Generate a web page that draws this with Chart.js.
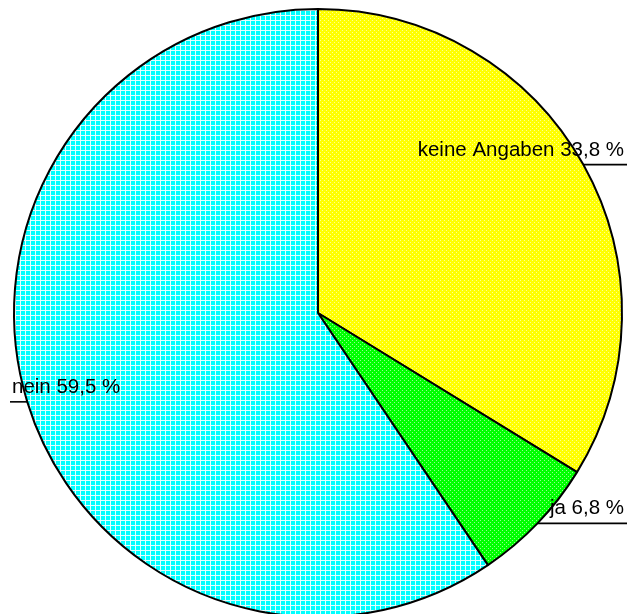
<!DOCTYPE html>
<html>
<head>
<meta charset="utf-8">
<script src="https://cdn.jsdelivr.net/npm/chart.js@4/dist/chart.umd.min.js"></script>
<style>
  html, body { margin: 0; padding: 0; background: #ffffff; overflow: hidden; }
  canvas { display: block; }
</style>
</head>
<body>
<canvas id="pie" width="627" height="630"></canvas>
<script>
// Survey answers, percent of respondents
const categories = ['keine Angaben', 'ja', 'nein'];
const values = [33.8, 6.8, 59.5];
const baseColors = ['#ffff00', '#00ff00', '#00ffff'];
const lightColors = ['#ffff90', '#90ff90', '#e0ffff'];

// Small raster fills: sparse dots for the first two slices, a fine grid for the last
function makePattern(base, light, grid) {
  const n = grid ? 5 : 4;
  const c = document.createElement('canvas');
  c.width = n; c.height = n;
  const g = c.getContext('2d');
  g.fillStyle = base;
  g.fillRect(0, 0, n, n);
  g.fillStyle = light;
  if (grid) {
    g.fillRect(0, 0, n, 1);
    g.fillRect(0, 1, 1, n - 1);
  } else {
    g.fillRect(0, 0, 1, 1);
    g.fillRect(2, 2, 1, 1);
  }
  return g.createPattern(c, 'repeat');
}

const ctx0 = document.getElementById('pie').getContext('2d');
const fills = baseColors.map((b, i) => makePattern(b, lightColors[i], i === 2));

function fmt(v) {
  return v.toFixed(1).replace('.', ',') + ' %';
}

// Labels with a horizontal leader line starting at each slice's mid-angle on the rim
const leaderLabels = {
  id: 'leaderLabels',
  afterDatasetsDraw(chart) {
    const ctx = chart.ctx;
    const meta = chart.getDatasetMeta(0);
    const W = chart.width;
    ctx.save();
    ctx.font = '20.5px "Liberation Sans", Arial, sans-serif';
    ctx.fillStyle = '#000000';
    ctx.strokeStyle = '#000000';
    ctx.lineWidth = 1.6;
    ctx.textBaseline = 'alphabetic';
    meta.data.forEach((arc, i) => {
      const p = arc.getProps(['x', 'y', 'startAngle', 'endAngle', 'outerRadius'], true);
      const mid = (p.startAngle + p.endAngle) / 2;
      const ex = p.x + Math.cos(mid) * p.outerRadius;
      const ey = p.y + Math.sin(mid) * p.outerRadius;
      const text = categories[i] + ' ' + fmt(values[i]);
      ctx.beginPath();
      if (ex >= p.x) {
        ctx.moveTo(ex, ey);
        ctx.lineTo(W, ey);
        ctx.stroke();
        ctx.textAlign = 'right';
        ctx.fillText(text, W - 3, ey - 9);
      } else {
        ctx.moveTo(10, ey);
        ctx.lineTo(ex, ey);
        ctx.stroke();
        ctx.textAlign = 'left';
        ctx.fillText(text, 12, ey - 9);
      }
    });
    ctx.restore();
  }
};

new Chart(ctx0, {
  type: 'pie',
  data: {
    labels: categories,
    datasets: [{
      data: values,
      backgroundColor: fills,
      borderColor: '#000000',
      borderWidth: 2,
      borderAlign: 'center'
    }]
  },
  options: {
    responsive: false,
    devicePixelRatio: 1,
    animation: false,
    rotation: 0,
    layout: { padding: { left: 13, right: 4, top: 8, bottom: 12 } },
    plugins: {
      legend: { display: false },
      tooltip: { enabled: false }
    }
  },
  plugins: [leaderLabels]
});
</script>
</body>
</html>
